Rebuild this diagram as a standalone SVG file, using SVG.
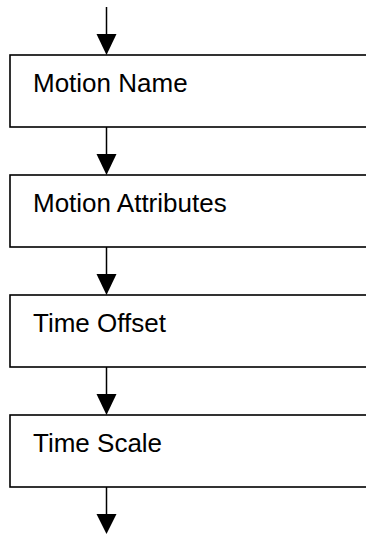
<svg xmlns="http://www.w3.org/2000/svg" width="366" height="534" viewBox="0 0 366 534">
<style>
.box{fill:#fff;stroke:#000;stroke-width:1.6}
.lbl{font-family:"Liberation Sans",Arial,sans-serif;font-size:26px;fill:#000}
.con{stroke:#000;stroke-width:1.5;fill:none}
.head{fill:#000}
</style>
<rect width="366" height="534" fill="#fff"/>
<g id="connectors">
<line class="con" x1="106.5" y1="7" x2="106.5" y2="40"/>
<polygon class="head" points="96.5,34 116.5,34 106.5,55"/>
<line class="con" x1="106.5" y1="127" x2="106.5" y2="160"/>
<polygon class="head" points="96.5,154 116.5,154 106.5,175"/>
<line class="con" x1="106.5" y1="247" x2="106.5" y2="280"/>
<polygon class="head" points="96.5,274 116.5,274 106.5,295"/>
<line class="con" x1="106.5" y1="367" x2="106.5" y2="400"/>
<polygon class="head" points="96.5,394 116.5,394 106.5,415"/>
<line class="con" x1="106.5" y1="487" x2="106.5" y2="520"/>
<polygon class="head" points="96.5,514 116.5,514 106.5,534"/>
</g>
<g id="motion-name">
<rect class="box" x="10" y="55" width="380" height="72"/>
<text class="lbl" x="33" y="91.5">Motion Name</text>
</g>
<g id="motion-attributes">
<rect class="box" x="10" y="175" width="380" height="72"/>
<text class="lbl" x="33" y="211.5">Motion Attributes</text>
</g>
<g id="time-offset">
<rect class="box" x="10" y="295" width="380" height="72"/>
<text class="lbl" x="33" y="331.5">Time Offset</text>
</g>
<g id="time-scale">
<rect class="box" x="10" y="415" width="380" height="72"/>
<text class="lbl" x="33" y="451.5">Time Scale</text>
</g>
</svg>
